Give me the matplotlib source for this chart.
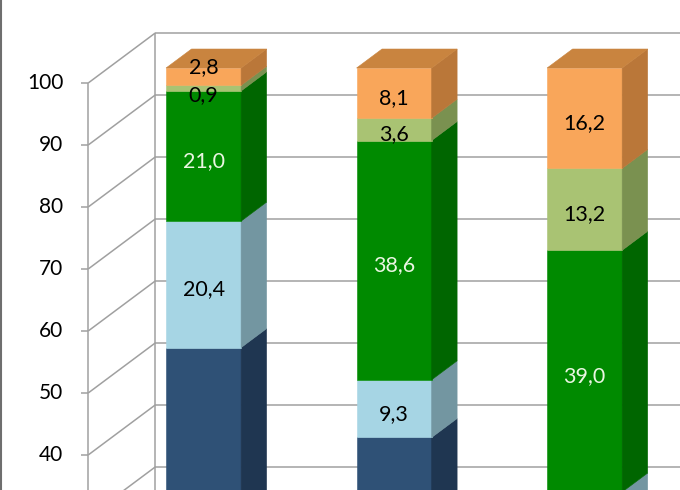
import matplotlib
matplotlib.use('Agg')
import matplotlib.pyplot as plt
from matplotlib.patches import Polygon
from matplotlib.lines import Line2D

# data (percent shares, stacked from bottom to top)
bars = [0, 1, 2]
dark_blue = [54.9, 40.4, 27.6]
light_blue = [20.4, 9.3, 4.0]
green = [21.0, 38.6, 39.0]
light_green = [0.9, 3.6, 13.2]
orange = [2.8, 8.1, 16.2]
yticks = list(range(0, 101, 10))

series = [dark_blue, light_blue, green, light_green, orange]
front_cols = ['#2F5176', '#A6D5E4', '#008A00', '#A9C373', '#F9A65A']
side_cols = ['#1F3651', '#7396A1', '#006600', '#7A9150', '#BA7739']
top_cols = ['#25415F', '#86AAB5', '#007300', '#8AA25E', '#C9843F']
label_cols = ['#FFFFFF', '#000000', '#EAF6E2', '#000000', '#000000']

# oblique projection: depth fraction -> offset in data units
DX = 67 / 190.5
DY = 50 / 6.2
D_FRONT, D_BACK = 0.30, 0.68
WIDTH = 0.394
X0 = -0.5  # front left corner of the floor
YMIN, YMAX = 34.35, 113.39

fig = plt.figure(figsize=(6.8, 4.9), dpi=100)
ax = fig.add_axes([0, 0, 1, 1])
ax.set_xlim(-0.963, 2.606)
ax.set_ylim(YMIN, YMAX)
ax.axis('off')

grid = dict(color='#A0A0A0', lw=1.1, zorder=1, solid_capstyle='butt')
for v in yticks:
    ax.plot([X0 + DX, 4], [v + DY, v + DY], **grid)
    ax.plot([X0, X0 + DX], [v, v + DY], **grid)
    ax.plot([X0 - 0.036, X0], [v, v], **grid)
    # only the ticks inside the cropped view carry a label
    if v - 1.5 > YMIN:
        ax.text(X0 - 0.13, v, str(v), ha='right', va='center', fontsize=15,
                family='Lato', color='#000000')
ax.plot([X0, X0], [0, 100], **grid)
ax.plot([X0 + DX, X0 + DX], [DY, 100 + DY], **grid)

fx = D_FRONT * DX
fy = D_FRONT * DY
ddx = (D_BACK - D_FRONT) * DX
ddy = (D_BACK - D_FRONT) * DY

label_nudge = {(0, 4): 2.4, (0, 3): -0.3}

for i in bars:
    xl = i - WIDTH / 2 + fx
    xr = i + WIDTH / 2 + fx
    base = 0.0
    for k, s in enumerate(series):
        val = s[i]
        lo, hi = base + fy, base + val + fy
        ax.add_patch(Polygon([(xl, lo), (xr, lo), (xr, hi), (xl, hi)],
                             closed=True, fc=front_cols[k], ec=front_cols[k],
                             lw=0.4, zorder=3))
        ax.add_patch(Polygon([(xr, lo), (xr + ddx, lo + ddy),
                              (xr + ddx, hi + ddy), (xr, hi)],
                             closed=True, fc=side_cols[k], ec=side_cols[k],
                             lw=0.4, zorder=3))
        if k == len(series) - 1:
            ax.add_patch(Polygon([(xl, hi), (xr, hi), (xr + ddx, hi + ddy),
                                  (xl + ddx, hi + ddy)],
                                 closed=True, fc=top_cols[k], ec=top_cols[k],
                                 lw=0.4, zorder=3))
        ty = (lo + hi) / 2 - 0.8 + label_nudge.get((i, k), 0)
        # labels of segments below the crop are not visible in the picture
        if ty - 1.5 > YMIN:
            txt = ('%.1f' % val).replace('.', ',')
            ax.text(i + fx, ty, txt, ha='center', va='center', fontsize=15.5,
                    family='Lato', color=label_cols[k], zorder=5)
        base += val

fig.add_artist(Line2D([0.002, 0.002], [0, 1], color='#6E6E6E', lw=1.5))

fig.savefig('out.png', dpi=100)
